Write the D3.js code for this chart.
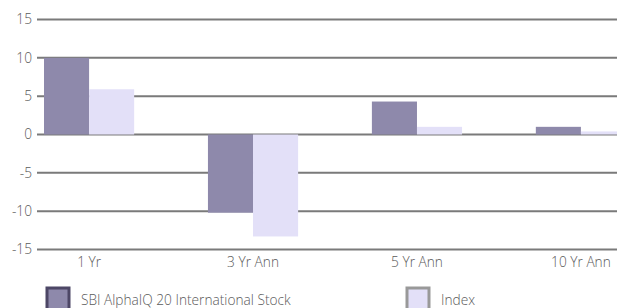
<!DOCTYPE html>
<html>
<head>
<meta charset="utf-8">
<script src="https://cdn.jsdelivr.net/npm/d3@7"></script>
<style>
  body { margin: 0; background: #fff; }
  text { font-family: "Open Sans", sans-serif; font-weight: 300; fill: #5a5a5a; }
</style>
</head>
<body>
<div id="chart"></div>
<script>
// returns chart: fund vs index

var categories = ["1 Yr", "3 Yr Ann", "5 Yr Ann", "10 Yr Ann"];
var seriesNames = ["SBI AlphaIQ 20 International Stock", "Index"];
var fundValues = [10.0, -10.2, 4.3, 1.0];
var indexValues = [5.9, -13.3, 1.0, 0.4];
var yTicks = [15, 10, 5, 0, -5, -10, -15];

var colors = ["#8e89ab", "#e3e0f8"];
var borders = ["#4d4766", "#999999"];

var width = 617,
    height = 308;

var svg = d3.select("#chart").append("svg")
    .attr("width", width)
    .attr("height", height);

var y = d3.scaleLinear()
    .domain([-15, 15])
    .range([249.5, 19.5]);

var x = d3.scaleBand()
    .domain(categories)
    .range([44, 626])
    .paddingInner(0.45)
    .paddingOuter(0)
    .align(0);

var xInner = d3.scaleBand()
    .domain([0, 1])
    .range([0, x.bandwidth()]);

// gridlines + y labels
var yAxis = svg.append("g")
    .attr("transform", "translate(37,0)")
    .call(d3.axisLeft(y).tickValues(yTicks).tickSize(0).tickPadding(5).tickFormat(String));
yAxis.select(".domain").remove();
yAxis.selectAll("text")
    .style("font-size", "13.7px")
    .attr("fill", null);

svg.append("g").selectAll("line")
    .data(yTicks)
    .enter().append("line")
    .attr("x1", 37)
    .attr("x2", width)
    .attr("y1", function(d) { return y(d); })
    .attr("y2", function(d) { return y(d); })
    .attr("stroke", "#7a7a7a")
    .attr("stroke-width", 2);

// bars
var rows = categories.map(function(c, i) { return [fundValues[i], indexValues[i]]; });

var groups = svg.append("g").selectAll("g")
    .data(rows)
    .enter().append("g")
    .attr("transform", function(d, i) { return "translate(" + x(categories[i]) + ",0)"; });

groups.selectAll("rect")
    .data(function(d) { return d; })
    .enter().append("rect")
    .attr("x", function(d, j) { return xInner(j); })
    .attr("width", xInner.bandwidth())
    .attr("y", function(d) { return y(Math.max(0, d)); })
    .attr("height", function(d) { return Math.abs(y(d) - y(0)); })
    .attr("fill", function(d, j) { return colors[j]; });

// x labels
var xAxis = svg.append("g")
    .attr("transform", "translate(0," + y(-15) + ")")
    .call(d3.axisBottom(x).tickSize(0).tickPadding(8));
xAxis.select(".domain").remove();
xAxis.selectAll("text")
    .style("font-size", "13.7px")
    .attr("fill", null);

// legend
var legendX = [47, 407];
var legend = svg.append("g").selectAll("g")
    .data(seriesNames)
    .enter().append("g")
    .attr("transform", function(d, i) { return "translate(" + legendX[i] + ",288)"; });

legend.append("rect")
    .attr("width", 22)
    .attr("height", 22)
    .attr("fill", function(d, i) { return colors[i]; })
    .attr("stroke", function(d, i) { return borders[i]; })
    .attr("stroke-width", 3);

legend.append("text")
    .attr("x", 34)
    .attr("y", 17)
    .style("font-size", "13.7px")
    .text(function(d) { return d; });
</script>
</body>
</html>
